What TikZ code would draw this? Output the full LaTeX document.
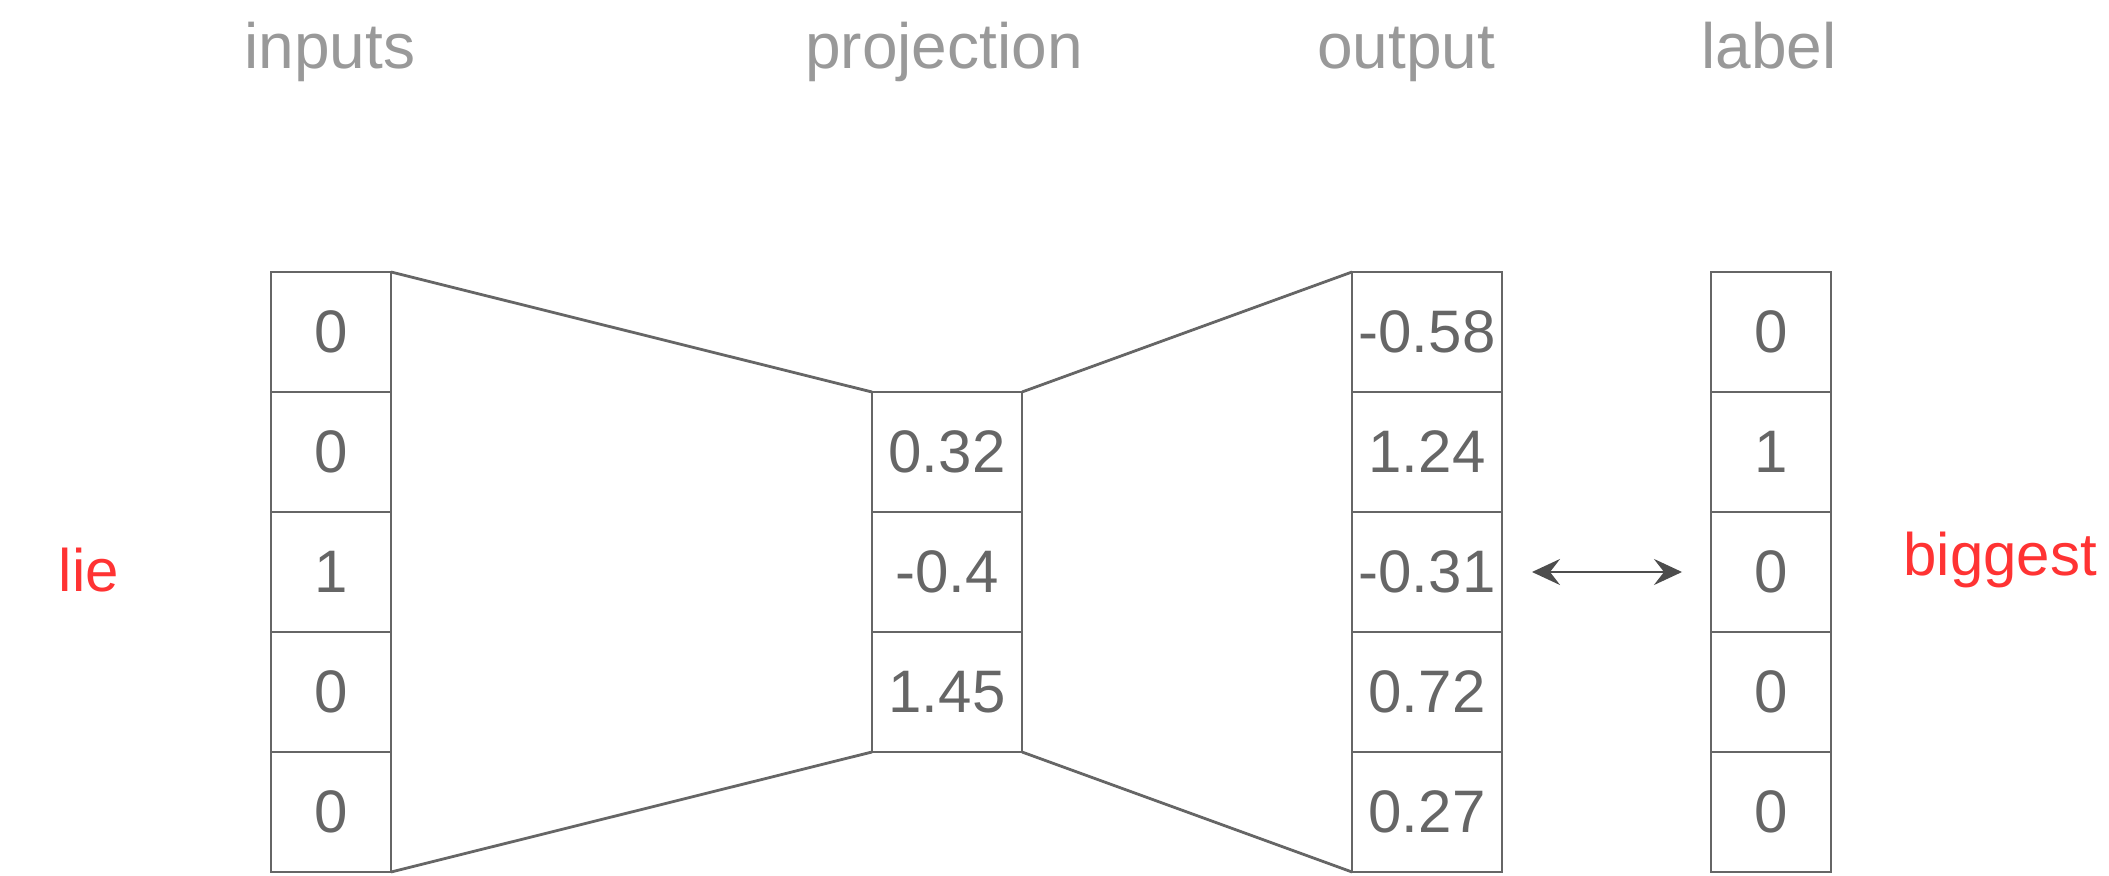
\documentclass[tikz,border=0pt]{standalone}
\usepackage{fontspec}
\setmainfont{Liberation Sans}
\usetikzlibrary{arrows.meta,positioning}
\definecolor{cellgray}{RGB}{102,102,102}
\definecolor{titlegray}{RGB}{153,153,153}
\definecolor{hintred}{RGB}{255,51,51}
\definecolor{arrowgray}{RGB}{77,77,77}

\begin{document}
\begin{tikzpicture}[x=0.5pt, y=-0.5pt,
    cell/.style={draw=cellgray, line width=1.4pt, minimum width=60pt, minimum height=60pt,
        inner sep=0pt, outer sep=0pt, text=cellgray, font=\fontsize{30}{36}\selectfont},
    widecell/.style={cell, minimum width=75pt},
    title/.style={text=titlegray, font=\fontsize{32}{38}\selectfont, anchor=base},
    hint/.style={text=hintred, font=\fontsize{30}{36}\selectfont}]
    \useasboundingbox (0,0) rectangle (2109,876);
    % Titles
    \node[title] (tinputs) at (330,69) {inputs};
    \node[title] (tproj) at (944,69) {projection};
    \node[title] (toutput) at (1406,69) {output};
    \node[title] (tlabel) at (1769,69) {label};
    % Columns
    \foreach \v [count=\i] in {0,0,1,0,0}
        \node[cell] (in\i) at (331, 212+120*\i) {\v};
    \foreach \v [count=\i] in {0.32,-0.4,1.45}
        \node[widecell] (pr\i) at (947, 332+120*\i) {\v};
    \foreach \v [count=\i] in {-0.58,1.24,-0.31,0.72,0.27}
        \node[widecell] (out\i) at (1427, 212+120*\i) {\v};
    \foreach \v [count=\i] in {0,1,0,0,0}
        \node[cell] (lab\i) at (1771, 212+120*\i) {\v};
    % Funnel
    \draw[cellgray, line width=1.4pt] (in1.north east) -- (pr1.north west);
    \draw[cellgray, line width=1.4pt] (in5.south east) -- (pr3.south west);
    \draw[cellgray, line width=1.4pt] (pr1.north east) -- (out1.north west);
    \draw[cellgray, line width=1.4pt] (pr3.south east) -- (out5.south west);
    % Comparison
    \draw[{Stealth[length=14pt, width=13pt, inset=5pt]}-{Stealth[length=14pt, width=13pt, inset=5pt]},
        arrowgray, line width=1.4pt, shorten <=15pt, shorten >=14.5pt] (out3.east) -- (lab3.west);
    \node[hint, anchor=base] (lie) at (89,591) {lie};
    \node[hint, anchor=base east] (biggest) at (2104,575) {biggest};
\end{tikzpicture}
\end{document}
